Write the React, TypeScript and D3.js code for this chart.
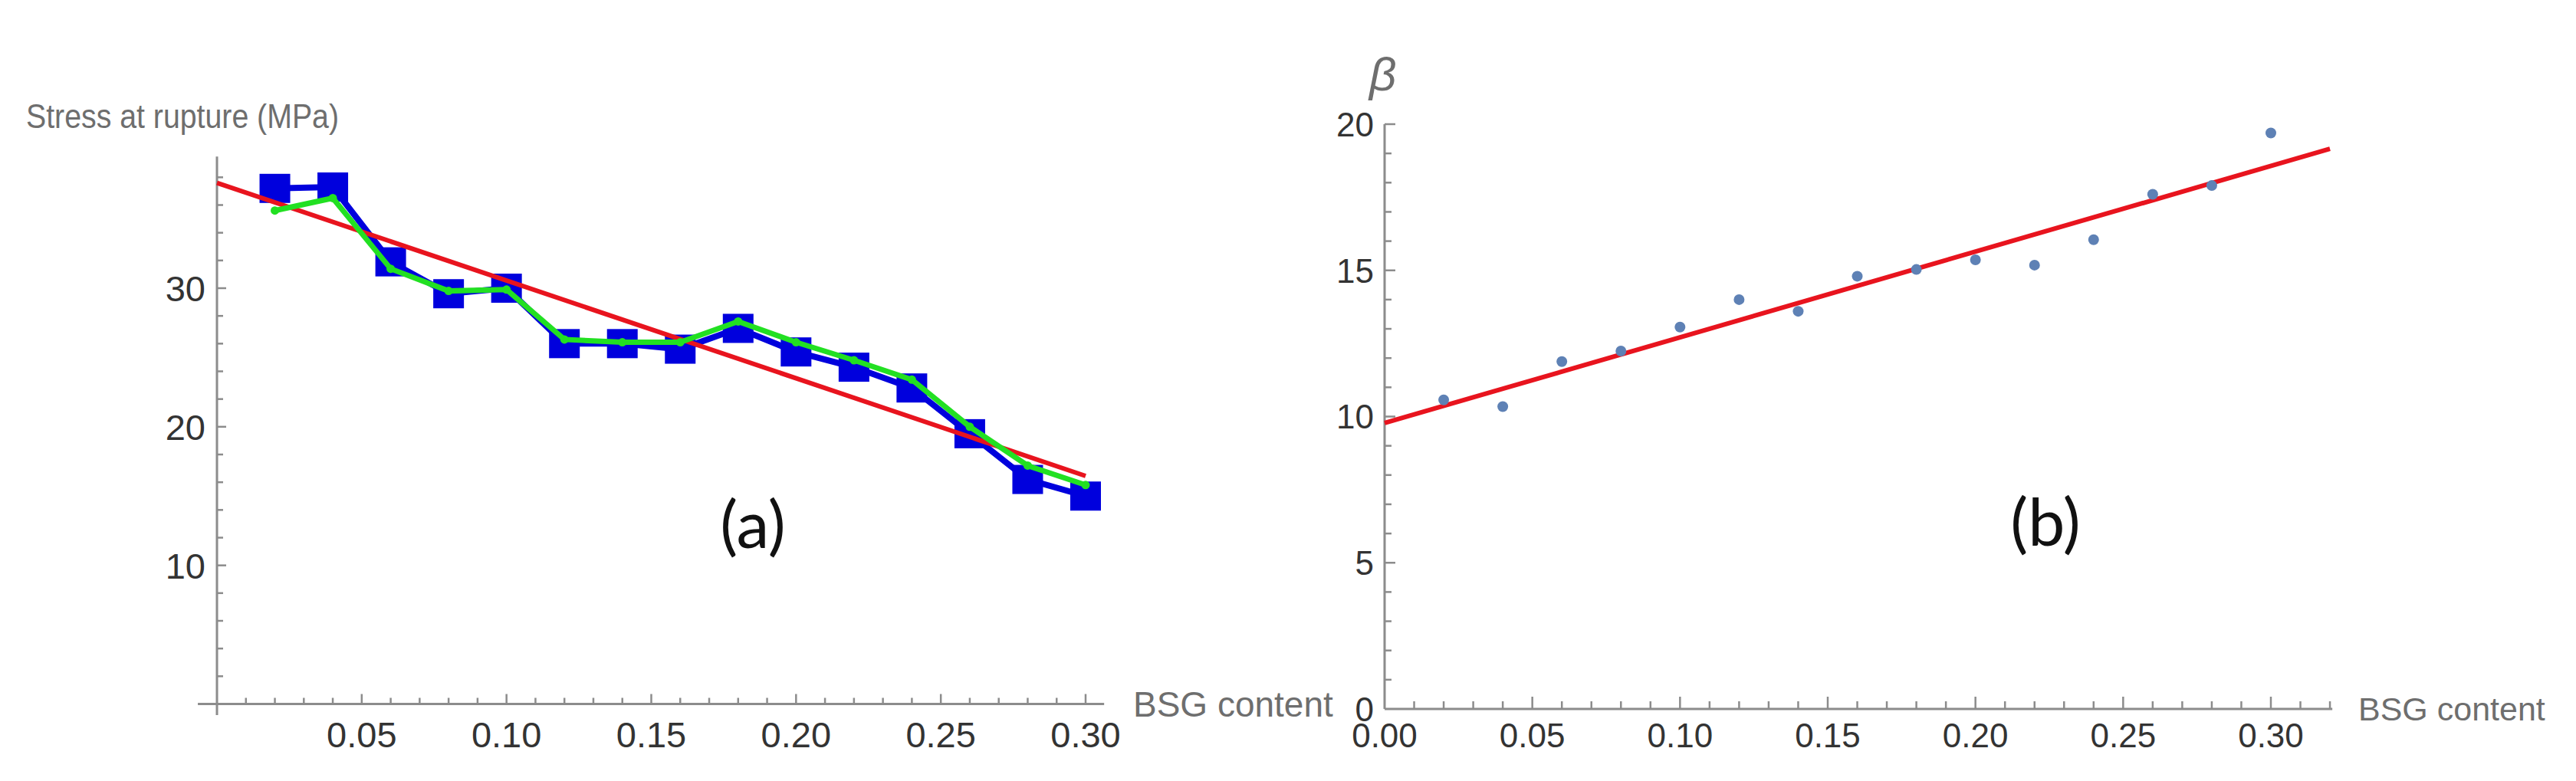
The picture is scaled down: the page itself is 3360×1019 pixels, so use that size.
import React from "react";
import * as d3 from "d3";

// ---------- data ----------
const bsgContent = [0.02, 0.04, 0.06, 0.08, 0.1, 0.12, 0.14, 0.16, 0.18, 0.2, 0.22, 0.24, 0.26, 0.28, 0.3];
const stressMeasured = [37.2, 37.3, 31.9, 29.6, 30.0, 26.0, 26.0, 25.6, 27.1, 25.4, 24.3, 22.8, 19.5, 16.2, 15.0];
const stressModel = [35.6, 36.5, 31.4, 29.8, 29.9, 26.3, 26.1, 26.1, 27.6, 26.1, 24.8, 23.4, 20.0, 17.2, 15.8];
const stressFit = { intercept: 37.6, slope: -70.5, from: 0, to: 0.3 };
const betaValues = [10.57, 10.34, 11.88, 12.24, 13.06, 14.0, 13.6, 14.8, 15.03, 15.36, 15.18, 16.05, 17.6, 17.9, 19.7];
const betaFit = { intercept: 9.78, slope: 29.3, from: 0, to: 0.32 };

const xTicksA = [0.05, 0.1, 0.15, 0.2, 0.25, 0.3];
const yTicksA = [10, 20, 30];
const xTicksB = [0, 0.05, 0.1, 0.15, 0.2, 0.25, 0.3];
const yTicksB = [0, 5, 10, 15, 20];

const AXIS = "#8c8c8c";
const LABEL = "#333333";
const TITLE = "#6e6e6e";
const FONT = "'Liberation Sans', Arial, sans-serif";

function range(a: number, b: number, step: number) {
  const out: number[] = [];
  for (let v = a; v <= b + step / 1000; v += step) out.push(+v.toFixed(4));
  return out;
}

function PanelA() {
  const x = d3.scaleLinear().domain([0, 0.3]).range([283, 1416]);
  const y = d3.scaleLinear().domain([0, 30]).range([918.5, 376]);
  const line = d3.line<number>().x((_, i) => x(bsgContent[i])).y((d) => y(d));
  const minorX = range(0.01, 0.3, 0.01);
  const minorY = range(2, 38, 2);
  const y0 = y(0);
  const x0 = x(0);
  return (
    <g>
      {/* axes */}
      <line x1={x(-0.0066)} x2={x(0.3064)} y1={y0} y2={y0} stroke={AXIS} strokeWidth={3} />
      <line x1={x0} x2={x0} y1={y(-0.8)} y2={y(39.5)} stroke={AXIS} strokeWidth={3} />
      {minorX.map((v) => {
        const major = xTicksA.some((t) => Math.abs(t - v) < 1e-6);
        return <line key={"mx" + v} x1={x(v)} x2={x(v)} y1={y0} y2={y0 - (major ? 13 : 8)} stroke={AXIS} strokeWidth={2.5} />;
      })}
      {minorY.map((v) => {
        const major = yTicksA.includes(v);
        return <line key={"my" + v} x1={x0} x2={x0 + (major ? 12 : 8)} y1={y(v)} y2={y(v)} stroke={AXIS} strokeWidth={2.5} />;
      })}
      {xTicksA.map((t) => (
        <text key={"xl" + t} x={x(t)} y={975} textAnchor="middle" fontSize={47} fill={LABEL} fontFamily={FONT}>
          {t.toFixed(2)}
        </text>
      ))}
      {yTicksA.map((t) => (
        <text key={"yl" + t} x={268} y={y(t)} dy="0.36em" textAnchor="end" fontSize={47} fill={LABEL} fontFamily={FONT}>
          {t}
        </text>
      ))}
      <text x={34} y={167} fontSize={44} fill={TITLE} fontFamily={FONT} textLength={408} lengthAdjust="spacingAndGlyphs">
        Stress at rupture (MPa)
      </text>
      <text x={1478} y={y0} dy="0.36em" fontSize={46} fill={TITLE} fontFamily={FONT}>BSG content</text>

      {/* measured: blue squares + line */}
      <path d={line(stressMeasured) || ""} fill="none" stroke="#0000dd" strokeWidth={8} />
      {stressMeasured.map((v, i) => (
        <rect key={"sq" + i} x={x(bsgContent[i]) - 20} y={y(v) - 19} width={40} height={38} fill="#0000dd" />
      ))}
      {/* linear fit */}
      <line
        x1={x(stressFit.from)}
        y1={y(stressFit.intercept + stressFit.slope * stressFit.from)}
        x2={x(stressFit.to)}
        y2={y(stressFit.intercept + stressFit.slope * stressFit.to)}
        stroke="#e8141e"
        strokeWidth={6}
      />
      {/* model: green */}
      <path d={line(stressModel) || ""} fill="none" stroke="#22e022" strokeWidth={7} />
      {stressModel.map((v, i) => (
        <circle key={"gd" + i} cx={x(bsgContent[i])} cy={y(v)} r={5.5} fill="#22e022" />
      ))}
      <text x={982} y={684} dy="0.36em" textAnchor="middle" fontSize={86} fill="#111" fontFamily="Lato, 'Open Sans', sans-serif">(a)</text>
    </g>
  );
}

function PanelB() {
  const x = d3.scaleLinear().domain([0, 0.3]).range([1806, 2962]);
  const y = d3.scaleLinear().domain([0, 20]).range([925, 162]);
  const minorX = range(0.01, 0.32, 0.01);
  const minorY = range(1, 20, 1);
  const y0 = y(0);
  const x0 = x(0);
  return (
    <g>
      <line x1={x0} x2={x(0.3208)} y1={y0} y2={y0} stroke={AXIS} strokeWidth={3} />
      <line x1={x0} x2={x0} y1={y0} y2={y(20)} stroke={AXIS} strokeWidth={3} />
      {minorX.map((v) => {
        const major = xTicksB.some((t) => Math.abs(t - v) < 1e-6);
        return <line key={"bx" + v} x1={x(v)} x2={x(v)} y1={y0} y2={y0 - (major ? 16 : 10)} stroke={AXIS} strokeWidth={2.5} />;
      })}
      {minorY.map((v) => {
        const major = yTicksB.includes(v);
        return <line key={"by" + v} x1={x0} x2={x0 + (major ? 14 : 9)} y1={y(v)} y2={y(v)} stroke={AXIS} strokeWidth={2.5} />;
      })}
      {xTicksB.map((t) => (
        <text key={"bxl" + t} x={x(t)} y={975} textAnchor="middle" fontSize={44} fill={LABEL} fontFamily={FONT}>
          {t.toFixed(2)}
        </text>
      ))}
      {yTicksB.map((t) => (
        <text key={"byl" + t} x={1792} y={y(t)} dy="0.36em" textAnchor="end" fontSize={44} fill={LABEL} fontFamily={FONT}>
          {t}
        </text>
      ))}
      <text x={1786} y={118} fontSize={62} fontStyle="italic" fill={TITLE} fontFamily={FONT}>β</text>
      <text x={3076} y={y0} dy="0.36em" fontSize={43} fill={TITLE} fontFamily={FONT}>BSG content</text>
      <line
        x1={x(betaFit.from)}
        y1={y(betaFit.intercept + betaFit.slope * betaFit.from)}
        x2={x(betaFit.to)}
        y2={y(betaFit.intercept + betaFit.slope * betaFit.to)}
        stroke="#e8141e"
        strokeWidth={6}
      />
      {betaValues.map((v, i) => (
        <circle key={"bp" + i} cx={x(bsgContent[i])} cy={y(v)} r={7} fill="#5e81b5" />
      ))}
      <text x={2668} y={681} dy="0.36em" textAnchor="middle" fontSize={86} fill="#111" fontFamily="Lato, 'Open Sans', sans-serif">(b)</text>
    </g>
  );
}

export default function App() {
  return (
    <svg
      width={3360}
      height={1019}
      viewBox="0 0 3360 1019"
      style={{ position: "absolute", left: 0, top: 0, background: "#fff" }}
    >
      <rect width={3360} height={1019} fill="#fff" />
      <PanelA />
      <PanelB />
    </svg>
  );
}
